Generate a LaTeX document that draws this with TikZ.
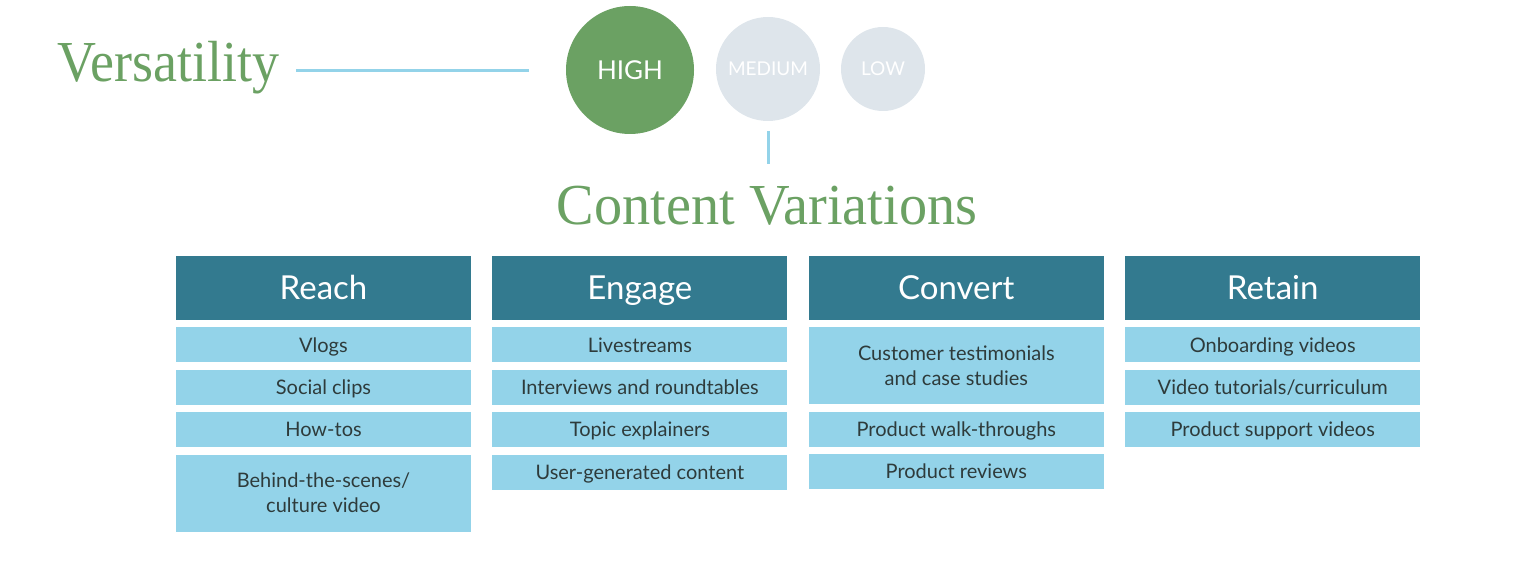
\documentclass[tikz,border=0pt]{standalone}
\usepackage{fontspec}
\setmainfont{Liberation Serif}
\newfontfamily\labelfont{Lato}
\usepackage{tikz}
\usetikzlibrary{positioning}
\definecolor{leaf}{HTML}{6BA163}
\definecolor{sky}{HTML}{93D3E9}
\definecolor{deepteal}{HTML}{337A8F}
\definecolor{mist}{HTML}{DEE5EB}
\definecolor{ink}{HTML}{2E3B3B}
\tikzset{
  title/.style={font=\fontsize{58}{60}\selectfont,text=leaf,inner sep=0pt},
  dot/.style={circle,inner sep=0pt,text=white,font=\labelfont\fontsize{19}{19}\selectfont},
  dothi/.style={dot,fill=leaf,minimum size=128pt,font=\labelfont\fontsize{26}{26}\selectfont},
  dotlo/.style={dot,fill=mist},
  rule/.style={draw=sky,line width=3pt},
  head/.style={fill=deepteal,text=white,minimum width=295pt,minimum height=64pt,
    inner sep=0pt,text height=23.6pt,text depth=0pt,font=\labelfont\fontsize{33}{33}\selectfont},
  item/.style={fill=sky,text=ink,minimum width=295pt,minimum height=35pt,
    inner sep=0pt,align=center,font=\labelfont\fontsize{20}{25}\selectfont},
  itemone/.style={item,text height=14.3pt,text depth=0pt},
  itemtall/.style={item,minimum height=77pt},
}
\begin{document}
\begin{tikzpicture}[x=1pt,y=1pt,node distance=7pt and 21pt]
  \useasboundingbox (0,0) rectangle (1526,574);
  % versatility scale
  \node[title,anchor=base west](vers) at (57,492){\scalebox{0.93}[1]{Versatility}};
  \node[dothi](high) at (630,504){HIGH};
  \node[dotlo,minimum size=104pt](med) at (768,505){MEDIUM};
  \node[dotlo,minimum size=84pt](low) at (883,505){LOW};
  \coordinate (v0) at (296,503);
  \coordinate (v1) at (529,503);
  \draw[rule](v0)--(v1);
  \draw[rule]([yshift=-10pt]med.south)--++(0,-33);
  \node[title,anchor=base](cv) at (767,349){\scalebox{0.97}[1]{Content Variations}};
  % columns
  \node[head](reach) at (323.5,286){Reach};
  \node[head,right=of reach](engage){Engage};
  \node[head,right=of engage](convert){Convert};
  \node[head,right=of convert](retain){Retain};
  \node[itemone,below=of reach](r1){Vlogs};
  \node[itemone,below=of r1](r2){Social clips};
  \node[itemone,below=of r2](r3){How-tos};
  \node[itemtall,below=of r3](r4){Behind-the-scenes/\\culture video};
  \node[itemone,below=of engage](e1){Livestreams};
  \node[itemone,below=of e1](e2){Interviews and roundtables};
  \node[itemone,below=of e2](e3){Topic explainers};
  \node[itemone,below=of e3](e4){User-generated content};
  \node[itemtall,below=of convert](c1){Customer testimonials\\and case studies};
  \node[itemone,below=of c1](c2){Product walk-throughs};
  \node[itemone,below=of c2](c3){Product reviews};
  \node[itemone,below=of retain](t1){Onboarding videos};
  \node[itemone,below=of t1](t2){Video tutorials/curriculum};
  \node[itemone,below=of t2](t3){Product support videos};
\end{tikzpicture}
\end{document}
